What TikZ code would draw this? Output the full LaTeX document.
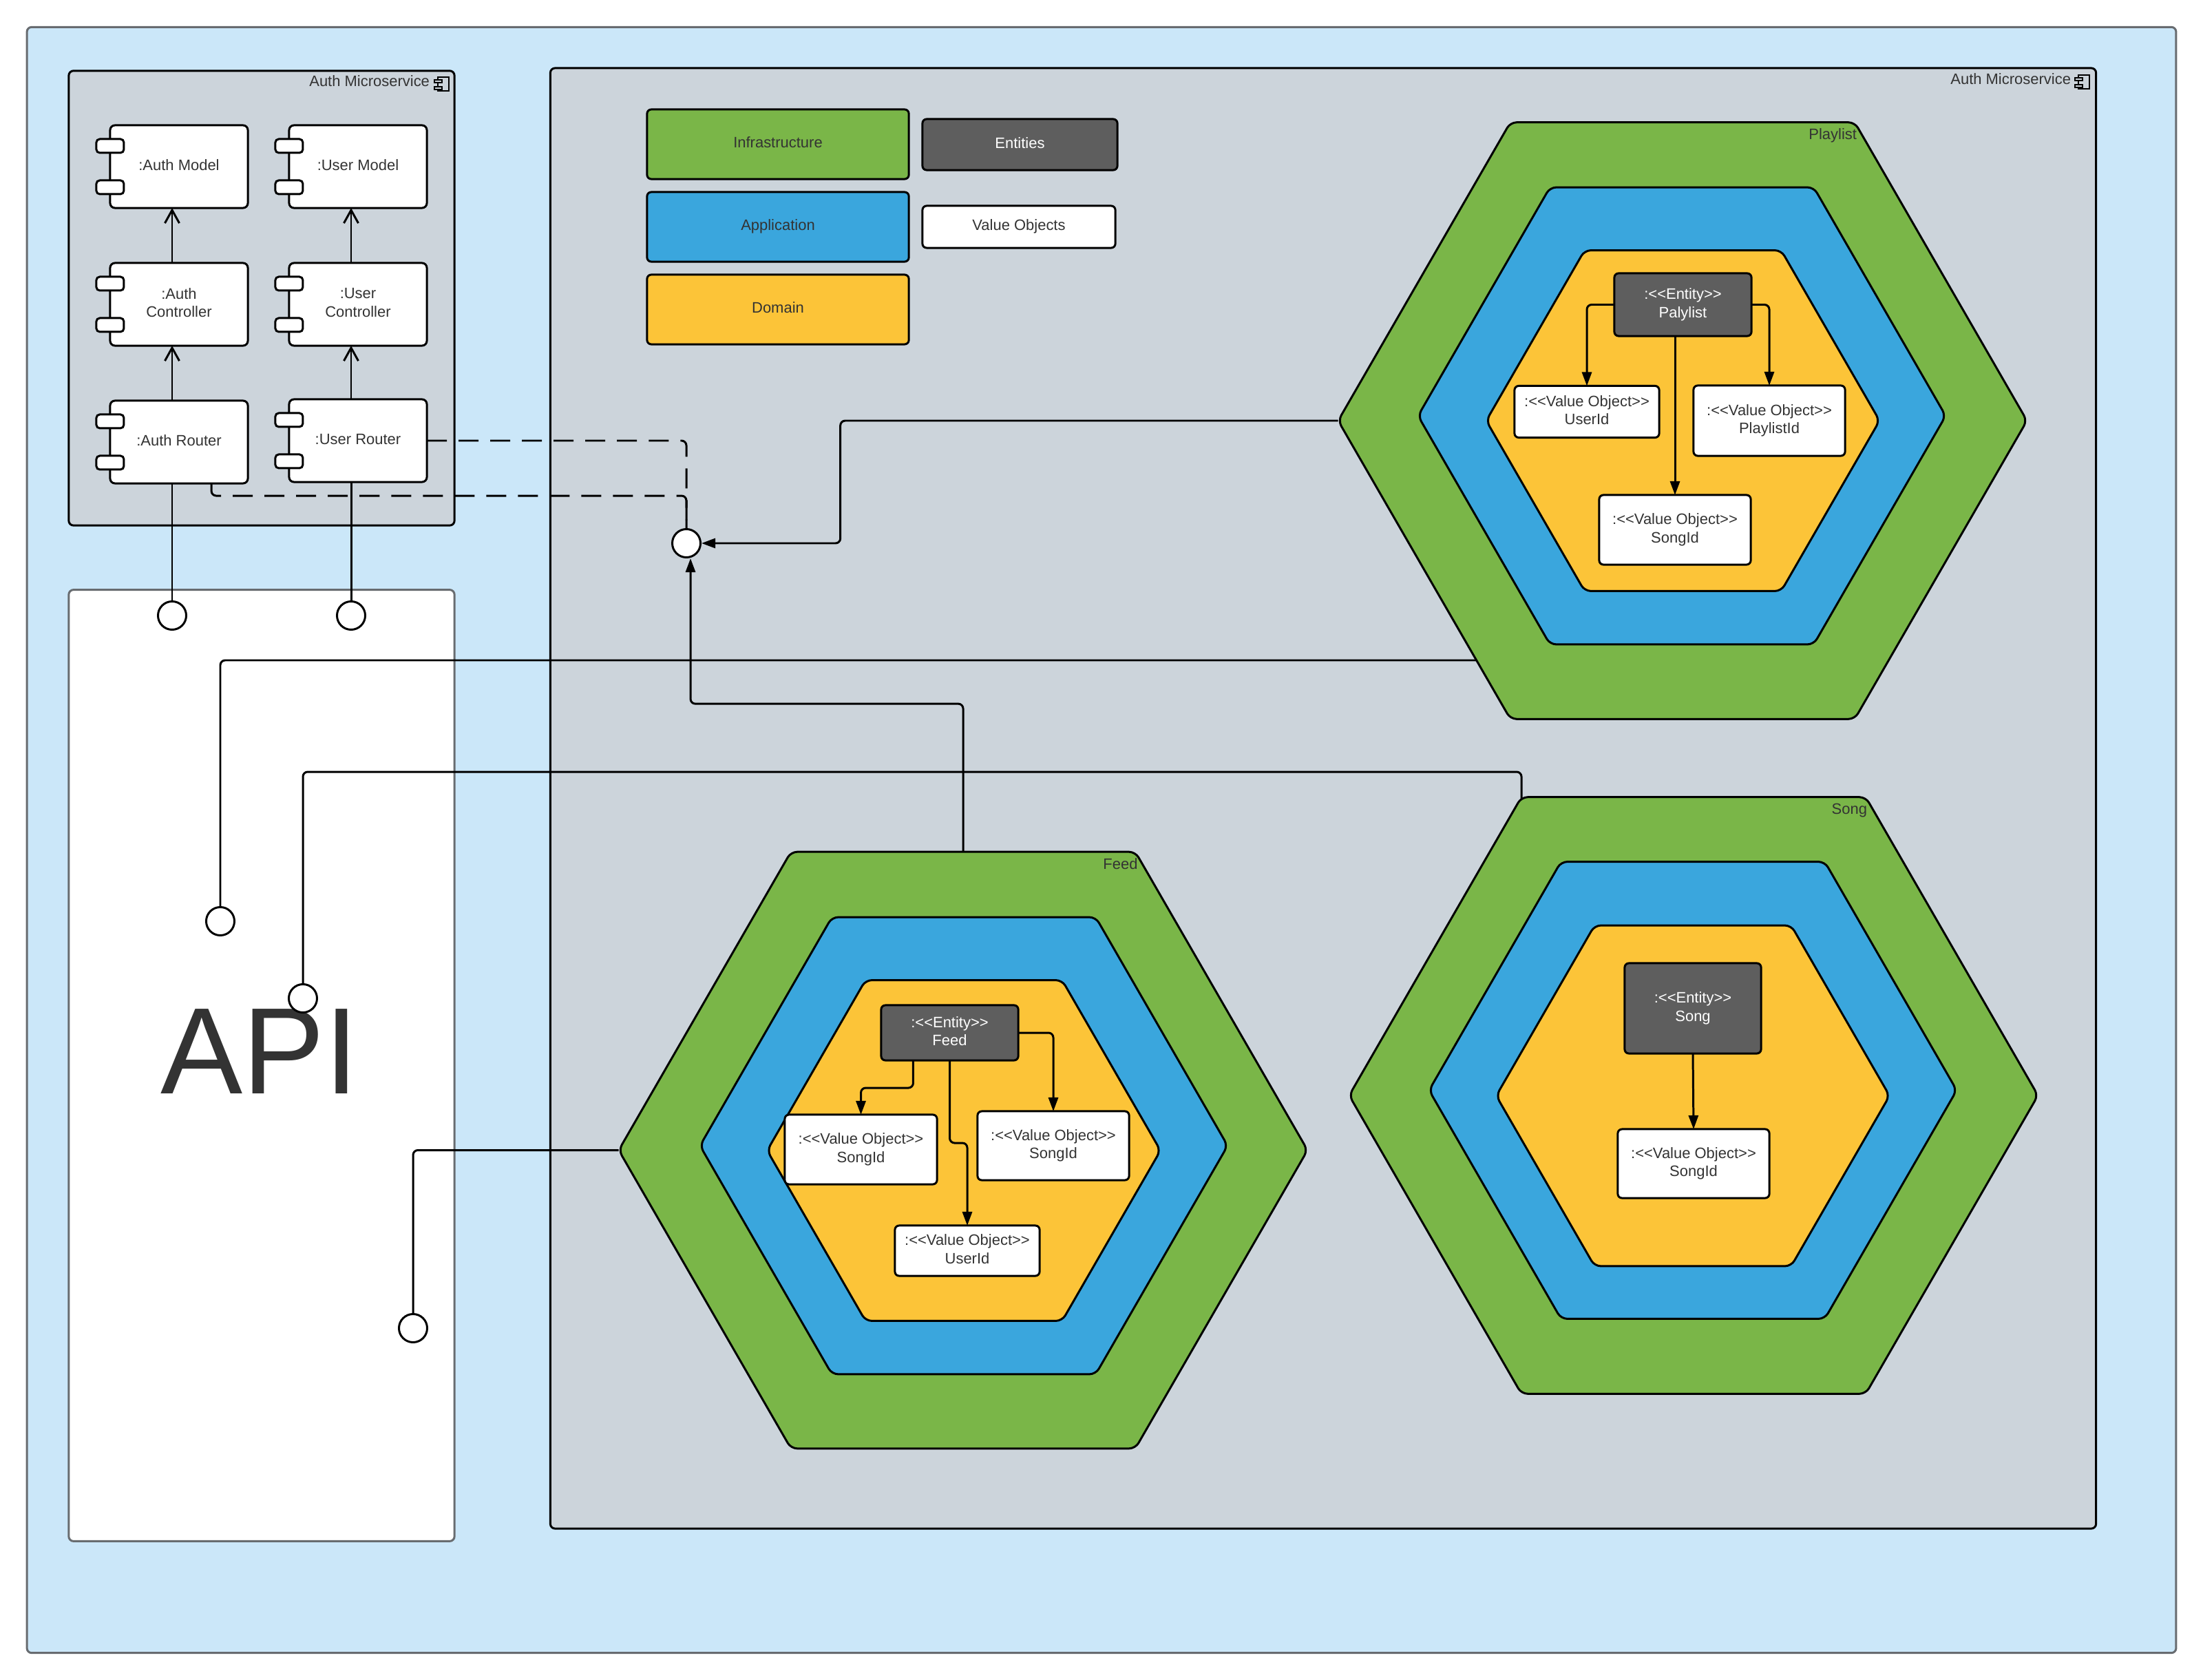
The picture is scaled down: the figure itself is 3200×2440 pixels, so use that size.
\documentclass[tikz,border=0pt]{standalone}
\usepackage{fontspec}
\setmainfont{Liberation Sans}
\usepackage{xcolor}
\definecolor{sky}{RGB}{203,231,249}
\definecolor{panelgray}{RGB}{204,212,219}
\definecolor{infra}{RGB}{122,182,72}
\definecolor{appl}{RGB}{58,166,221}
\definecolor{domn}{RGB}{252,196,56}
\definecolor{ent}{RGB}{94,94,94}
\definecolor{rim}{RGB}{104,108,112}
\definecolor{txt}{RGB}{51,51,51}
\usetikzlibrary{arrows.meta,shapes.geometric,positioning,calc,backgrounds}
\tikzset{
  lbl/.style={font=\fontsize{6.25}{7.5}\selectfont,text=txt,align=center,inner sep=0pt,outer sep=0pt,text depth=.05cm},
  sz/.style 2 args={minimum width=#1,minimum height=#2},
  panel/.style={lbl,draw=black,line width=.85pt,fill=panelgray,rounded corners=.07cm},
  rimbox/.style={panel,draw=rim},
  compbox/.style={lbl,draw=black,line width=.85pt,fill=white,rounded corners=.07cm,sz={2cm}{1.2cm}},
  nub/.style={draw=black,line width=.85pt,fill=white,rounded corners=.05cm,inner sep=0pt,sz={.4cm}{.2cm}},
  legend/.style={lbl,draw=black,line width=.85pt,rounded corners=.06cm},
  entity/.style={legend,fill=ent,text=white},
  vobj/.style={legend,fill=white},
  hexa/.style={regular polygon,regular polygon sides=6,draw=black,line width=.85pt,
    inner sep=0pt,outer sep=0pt,rounded corners=.09cm},
  hexinf/.style={hexa,fill=infra,minimum size=10cm},
  hexapp/.style={hexa,fill=appl,minimum size=7.66cm},
  hexdom/.style={hexa,fill=domn,minimum size=5.71cm},
  socket/.style={circle,draw=black,line width=.85pt,fill=white,inner sep=0pt,minimum size=.41cm},
  wire/.style={line width=.85pt,rounded corners=.07cm},
  dep/.style={wire,-{Triangle[length=.2cm,width=.14cm]}},
  uses/.style={wire,-{Straight Barb[length=.19cm,width=.21cm]}},
  dashwire/.style={wire,dash pattern=on .29cm off .17cm},
  compicon/.pic={
    \draw[line width=.35pt] (5,0) rectangle (21,20);
    \draw[line width=.35pt,fill=panelgray] (0,4) rectangle (11,8);
    \draw[line width=.35pt,fill=panelgray] (0,14) rectangle (11,18);
  }
}

\begin{document}
\begin{tikzpicture}[x=0.01cm,y=-0.01cm]
  \useasboundingbox (0,0) rectangle (3200,2440);

  \begin{scope}[on background layer]
    \node[rimbox,fill=sky,sz={31.2cm}{23.6cm}] (frame) at (1600,1220) {};
    \node[panel,sz={5.6cm}{6.6cm}] (authpanel) at (380,433) {};
    \node[panel,sz={22.44cm}{21.2cm}] (mainpanel) at (1922,1159.5) {};
    \node[rimbox,fill=white,sz={5.6cm}{13.81cm}] (apipanel) at (380,1547.5) {};
  \end{scope}

  \node[lbl,anchor=east] (authname) at (624,120) {Auth Microservice};
  \pic at (631,112) {compicon};
  \node[lbl,anchor=east] (mainname) at (3008,117) {Auth Microservice};
  \pic at (3014,109) {compicon};
  \node[lbl,anchor=base,font=\fontsize{50.8}{60}\selectfont] (apiname) at (377,1588) {API};

  % auth components
  \foreach \nm/\txtl/\cx/\cy in {amodel/{:Auth Model}/260/242,umodel/{:User Model}/520/242,
      actrl/{:Auth\\Controller}/260/442,uctrl/{:User\\Controller}/520/442,
      arouter/{:Auth Router}/260/642,urouter/{:User Router}/520/640} {
    \node[compbox] (\nm) at (\cx,\cy) {\txtl};
    \node[nub] (\nm-a) at ($(\nm.north west)+(0,30)$) {};
    \node[nub] (\nm-b) at ($(\nm.north west)+(0,90)$) {};
  }
  \draw[uses] ([xshift=-.1cm]actrl.north) -- ([xshift=-.1cm]amodel.south);
  \draw[uses] ([xshift=-.1cm]arouter.north) -- ([xshift=-.1cm]actrl.south);
  \draw[uses] ([xshift=-.1cm]uctrl.north) -- ([xshift=-.1cm]umodel.south);
  \draw[uses] ([xshift=-.1cm]urouter.north) -- ([xshift=-.1cm]uctrl.south);

  % legend
  \node[legend,fill=infra,sz={3.8cm}{1.01cm}] (keyinfra) at (1130,209.5) {Infrastructure};
  \node[legend,fill=appl,sz={3.8cm}{1.01cm}] (keyappl) at (1130,329.5) {Application};
  \node[legend,fill=domn,sz={3.8cm}{1.01cm}] (keydomn) at (1130,449.5) {Domain};
  \node[entity,sz={2.83cm}{.74cm}] (keyent) at (1481.5,210) {Entities};
  \node[vobj,sz={2.8cm}{.61cm}] (keyvobj) at (1480,329.5) {Value Objects};

  % playlist
  \node[hexinf] (plhex) at (2444,611) {};
  \node[hexapp] (plhexb) at (2443,604) {};
  \node[hexdom] (plhexc) at (2444.5,611) {};
  \node[lbl,anchor=east] (plname) at (2697,197) {Playlist};
  \node[entity,sz={1.99cm}{.91cm}] (plent) at (2444.5,442.5) {:<{}<Entity>{}>\\Palylist};
  \node[vobj,sz={2.1cm}{.75cm}] (pluser) at (2305,598) {:<{}<Value Object>{}>\\UserId};
  \node[vobj,sz={2.2cm}{1.02cm}] (plpid) at (2570,611) {:<{}<Value Object>{}>\\PlaylistId};
  \node[vobj,sz={2.2cm}{1.01cm}] (plsong) at (2433,769.5) {:<{}<Value Object>{}>\\SongId};
  \draw[dep] (plent.west) -| (pluser.north);
  \draw[dep] (plent.east) -| (plpid.north);
  \draw[dep] (plsong.north |- plent.south) -- (plsong.north);

  % feed
  \node[hexinf] (fhex) at (1399,1670.5) {};
  \node[hexapp] (fhexb) at (1400,1664) {};
  \node[hexdom] (fhexc) at (1400,1671) {};
  \node[lbl,anchor=east] (fname) at (1652.5,1257) {Feed};
  \node[entity,sz={1.99cm}{.8cm}] (fent) at (1379.5,1500) {:<{}<Entity>{}>\\Feed};
  \node[vobj,sz={2.21cm}{1.01cm}] (fsonga) at (1250.5,1669.5) {:<{}<Value Object>{}>\\SongId};
  \node[vobj,sz={2.2cm}{1cm}] (fsongb) at (1530,1664) {:<{}<Value Object>{}>\\SongId};
  \node[vobj,sz={2.1cm}{.73cm}] (fuser) at (1405,1816.5) {:<{}<Value Object>{}>\\UserId};
  \draw[dep] ([xshift=-.53cm]fent.south) -- ++(0,40) -| (fsonga.north);
  \draw[dep] (fent.south) -- ++(0,120) -| (fuser.north);
  \draw[dep] (fent.east) -| (fsongb.north);

  % song
  \node[hexinf] (shex) at (2460,1591) {};
  \node[hexapp] (shexb) at (2459,1583.5) {};
  \node[hexdom] (shexc) at (2459,1591.5) {};
  \node[lbl,anchor=east] (sname) at (2712,1177) {Song};
  \node[entity,sz={1.98cm}{1.31cm}] (sent) at (2459,1464.5) {:<{}<Entity>{}>\\Song};
  \node[vobj,sz={2.2cm}{1cm}] (ssong) at (2460,1690) {:<{}<Value Object>{}>\\SongId};
  \draw[dep] (sent.south) -- (ssong.north);

  % sockets
  \node[socket] (sock) at (997,789) {};
  \node[socket] (apia) at (250,894) {};
  \node[socket] (apib) at (510,894) {};
  \node[socket] (apic) at (320,1338) {};
  \node[socket] (apid) at (440,1450) {};
  \node[socket] (apie) at (600,1929) {};
  \coordinate (plout) at (2160,959);
  \coordinate (sgtop) at (2210,1121);
  \coordinate (sgout) at (2210,1170);

  \begin{scope}[on background layer]
    \draw[wire] (arouter.south -| apia) -- (apia.north);
    \draw[wire] (urouter.south -| apib) -- (apib.north);
    \draw[dashwire] (urouter.east) -| (sock.north);
    \draw[dashwire] ([xshift=.47cm]arouter.south) -- ++(0,18) -| (sock.north);
    \draw[dep] (plhex.west) -- ++(-723,0) |- (sock.east);
    \draw[dep] (fhex.north) -- ++(0,-215) -| ([xshift=.06cm]sock.south);
    \draw[wire] (plout) -| (apic.north);
    \draw[wire] (apid.north) |- (sgtop) -- (sgout);
    \draw[wire] (fhex.west) -| (apie.north);
  \end{scope}
\end{tikzpicture}
\end{document}
